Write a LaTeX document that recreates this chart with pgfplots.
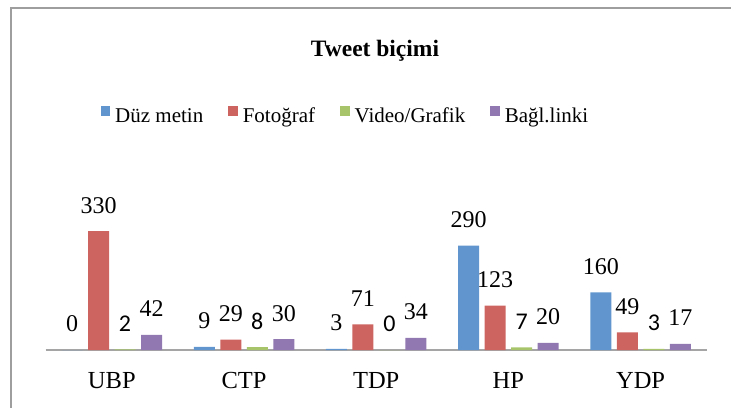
\documentclass[border=0pt]{standalone}
\usepackage{fontspec}
\setmainfont{Liberation Serif}
\newfontfamily\calibri{Carlito}
\usepackage{pgfplots}
\pgfplotsset{compat=1.18}
\definecolor{cblue}{RGB}{96,150,205}
\definecolor{cred}{RGB}{205,100,95}
\definecolor{cgreen}{RGB}{168,196,106}
\definecolor{cpurple}{RGB}{145,120,177}
\definecolor{axisgray}{RGB}{165,165,165}
\definecolor{framegray}{RGB}{158,158,158}
\begin{document}
\begin{tikzpicture}
\draw[framegray, line width=1.8pt] (11pt,-408pt) -- (11pt,-7.7pt) -- (731pt,-7.7pt);
\node[font=\bfseries\fontsize{23.5}{28}\selectfont, anchor=base] at (375pt,-56pt) {Tweet biçimi};
\begin{axis}[
  at={(45.7pt,-350pt)}, anchor=south west,
  scale only axis, width=661pt, height=144pt,
  xmin=-0.5, xmax=4.5, ymin=0, ymax=400,
  /pgf/number format/assume math mode=true,
  ybar=5.5pt, bar width=21pt,
  axis x line=bottom, axis y line=none,
  x axis line style={-, draw=axisgray, line width=1.5pt},
  xtick={0,...,4}, xticklabels={UBP,CTP,TDP,HP,YDP},
  major tick length=0pt, xtick style={draw=none}, ytick=\empty,
  xticklabel style={anchor=base, yshift=-38.3pt, font=\fontsize{24.5}{28}\selectfont},
  nodes near coords, nodes near coords align=center,
  every node near coord/.append style={yshift=26pt, font=\fontsize{24}{28}\selectfont, text=black},
  legend columns=4,
  legend style={draw=none, fill=none, at={(axis description cs:0.452,1.625)}, anchor=center,
    font=\fontsize{21}{25}\selectfont, column sep=0pt, nodes={inner sep=0pt},
    /tikz/every odd column/.append style={column sep=5pt},
    /tikz/every even column/.append style={column sep=25pt}},
  legend image code/.code={\path (0pt,-9.8pt); \fill[#1,draw=none] (0pt,0pt) rectangle (9.5pt,9.5pt);},
  clip=false,
]
\addplot[fill=cblue, draw=none] coordinates {(0,0) (1,9) (2,3) (3,290) (4,160)};
\addplot[fill=cred, draw=none] coordinates {(0,330) (1,29) (2,71) (3,123) (4,49)};
\addplot[fill=cgreen, draw=none,
  every node near coord/.append style={font=\calibri\fontsize{24}{28}\selectfont}]
  coordinates {(0,2) (1,8) (2,0) (3,7) (4,3)};
\addplot[fill=cpurple, draw=none] coordinates {(0,42) (1,30) (2,34) (3,20) (4,17)};
\legend{Düz metin, Fotoğraf, Video/Grafik, Bağl.linki}
\end{axis}
\pgfresetboundingbox
\path[use as bounding box] (0pt,0pt) rectangle (731pt,-408pt);
\end{tikzpicture}
\end{document}
